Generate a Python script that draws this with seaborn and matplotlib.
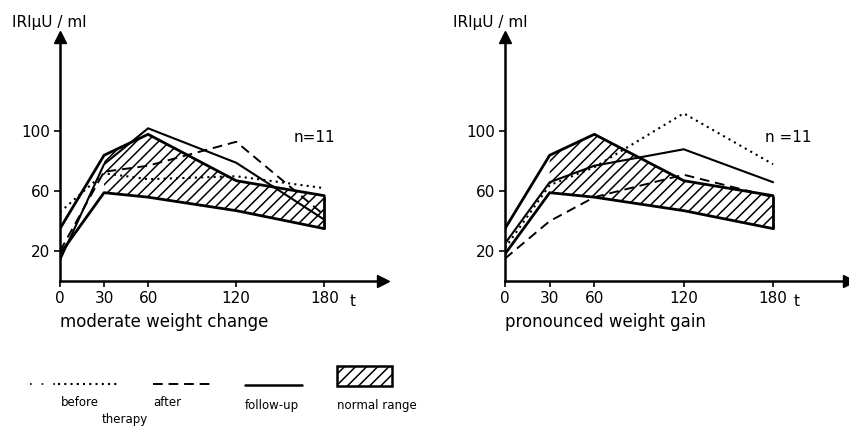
import numpy as np
import pandas as pd
import matplotlib
matplotlib.use('Agg')
import matplotlib.pyplot as plt
import seaborn as sns
from matplotlib.patches import Rectangle

sns.set_style('ticks')
plt.rcParams['font.family'] = ['DejaVu Sans']
plt.rcParams['hatch.linewidth'] = 1.1
plt.rcParams['text.color'] = 'black'
plt.rcParams['xtick.color'] = 'black'
plt.rcParams['ytick.color'] = 'black'

# insulin (IRI, µU/ml) after glucose load, t in minutes
times = [0, 30, 60, 120, 180]
normal_upper = [35, 84, 98, 67, 57]
normal_lower = [18, 59, 56, 47, 35]

moderate_before = [46, 72, 68, 70, 62]
moderate_after = [20, 73, 77, 93, 44]
moderate_follow = [14, 78, 102, 79, 41]

pronounced_before = [22, 64, 76, 112, 78]
pronounced_after = [15, 40, 56, 71, 56]
pronounced_follow = [25, 66, 77, 88, 66]

y_ticks = [20, 60, 100]
panel_titles = ['moderate weight change', 'pronounced weight gain']

DOT = (0, (1, 2))
DASH = (0, (5, 3))

fig = plt.figure(figsize=(8.49, 4.26), dpi=100)
ax1 = fig.add_axes([60 / 849, 1 - 281 / 426, 323 / 849, 244 / 426])
ax2 = fig.add_axes([505 / 849, 1 - 281 / 426, 344 / 849, 244 / 426])

panels = [
    (ax1, moderate_before, moderate_after, moderate_follow, 220, 173),
    (ax2, pronounced_before, pronounced_after, pronounced_follow, 231, 190),
]

for i, (ax, before, after, follow, xmax, nx) in enumerate(panels):
    df = pd.DataFrame({'t': times, 'before': before, 'after': after,
                       'follow': follow, 'lo': normal_lower, 'hi': normal_upper})
    # normal range, hatched from 30 min on
    band = df[df['t'] >= 30]
    ax.fill_between(band['t'], band['lo'], band['hi'], facecolor='white',
                    edgecolor='black', hatch='///', linewidth=0)
    sns.lineplot(data=df, x='t', y='hi', ax=ax, color='black', lw=2.0)
    sns.lineplot(data=df, x='t', y='lo', ax=ax, color='black', lw=2.0)
    ax.vlines(times[-1], normal_lower[-1], normal_upper[-1], color='black', lw=2.0)

    sns.lineplot(data=df, x='t', y='before', ax=ax, color='black', lw=1.5, linestyle=DOT)
    sns.lineplot(data=df, x='t', y='after', ax=ax, color='black', lw=1.4, linestyle=DASH)
    sns.lineplot(data=df, x='t', y='follow', ax=ax, color='black', lw=1.5)

    ax.set_xlim(0, xmax)
    ax.set_ylim(0, 163)
    ax.set_xticks(times)
    ax.set_yticks(y_ticks)
    ax.set_xlabel('')
    ax.set_ylabel('')
    ax.tick_params(labelsize=11, length=4, width=1.2, pad=3)
    sns.despine(ax=ax)
    for s in ['left', 'bottom']:
        ax.spines[s].set_linewidth(1.8)
        ax.spines[s].set_color('black')
    ax.plot(1, 0, '>k', ms=9, transform=ax.transAxes, clip_on=False)
    ax.plot(0, 1, '^k', ms=9, transform=ax.transAxes, clip_on=False)

    ax.text(nx, 96, 'n=11' if i == 0 else 'n =11', fontsize=11, ha='center', va='center')
    ax.text(199 if i == 0 else 196, -0.082, 't', fontsize=11, ha='center', va='center',
            transform=ax.get_xaxis_transform())

fig.text(12 / 849, 1 - 22 / 426, 'IRI\u00b5U / ml', fontsize=11, va='center')
fig.text(453 / 849, 1 - 22 / 426, 'IRI\u00b5U / ml', fontsize=11, va='center')
fig.text(60 / 849, 1 - 322 / 426, panel_titles[0], fontsize=12, va='center')
fig.text(505 / 849, 1 - 322 / 426, panel_titles[1], fontsize=12, va='center')

# legend row drawn in pixel space
lg = fig.add_axes([0, 0, 1, 1])
lg.set_xlim(0, 849)
lg.set_ylim(426, 0)
lg.axis('off')
lg.plot([30, 55], [384, 384], color='black', lw=1.2, linestyle=(0, (1, 6)))
lg.plot([58, 117], [384, 384], color='black', lw=1.5, linestyle=DOT)
lg.plot([153, 212], [384, 384], color='black', lw=1.4, linestyle=DASH)
lg.plot([245, 302], [385, 385], color='black', lw=1.8)
lg.add_patch(Rectangle((337, 366), 55, 20, facecolor='white', edgecolor='black',
                       hatch='///', lw=1.8))
for x, y, s in [(61, 403, 'before'), (102, 420, 'therapy'), (153, 403, 'after'),
                (245, 405, 'follow-up'), (337, 405, 'normal range')]:
    lg.text(x, y, s, fontsize=8.5, ha='left', va='center')

fig.savefig('out.png', dpi=100)
